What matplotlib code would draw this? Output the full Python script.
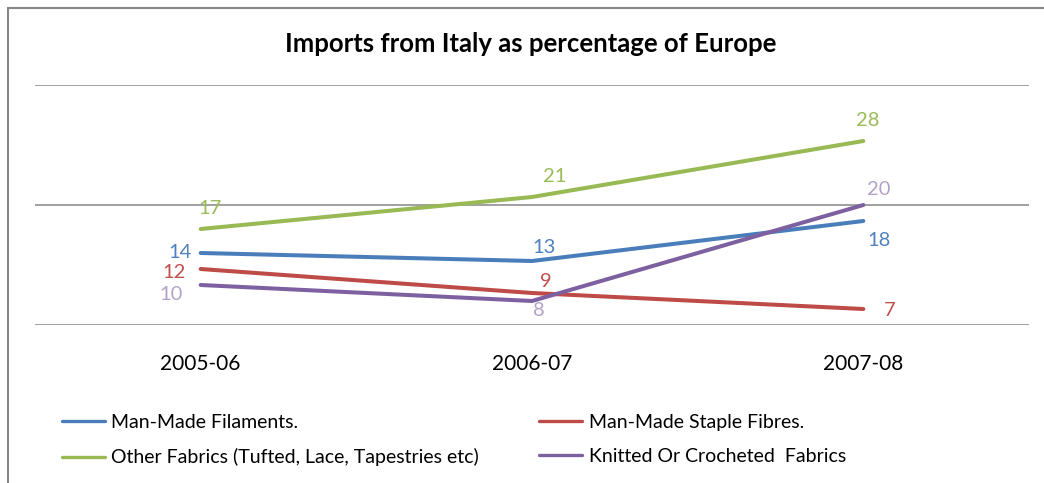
import matplotlib.pyplot as plt
from matplotlib.patches import Rectangle

plt.rcParams['font.family'] = ['Lato', 'DejaVu Sans']

years = ["2005-06", "2006-07", "2007-08"]
filaments = [14, 13, 18]
staple = [12, 9, 7]
other = [17, 21, 28]
knitted = [10, 8, 20]

series = [
    ("Man-Made Filaments.", filaments, "#4a7ebb", "#4f81bd"),
    ("Man-Made Staple Fibres.", staple, "#be4b48", "#c0504d"),
    ("Other Fabrics (Tufted, Lace, Tapestries etc)", other, "#98b954", "#9bbb59"),
    ("Knitted Or Crocheted  Fabrics", knitted, "#7d60a0", "#b3a2c7"),
]

# label offsets in points, one per data point
offsets = [
    [(-15, 0), (9, 10), (11, -14)],
    [(-19, -2.5), (10, 8), (19, -1)],
    [(7, 15), (16, 15), (3, 15)],
    [(-21, -7), (5, -7), (11, 11)],
]

fig = plt.figure(figsize=(10.44, 4.83), dpi=100)
fig.patches.append(Rectangle((8 / 1044, -0.1), 1.1, 1 - 8 / 483 + 0.1,
                             transform=fig.transFigure, fill=False,
                             edgecolor="#868686", linewidth=1.5))

ax = fig.add_axes([35 / 1044, 1 - 325 / 483, (1029 - 35) / 1044, 240 / 483])
x = list(range(len(years)))
handles = []
for (name, vals, col, lcol), offs in zip(series, offsets):
    h, = ax.plot(x, vals, color=col, linewidth=2.9, solid_capstyle="round", label=name)
    handles.append(h)
    for xi, v, (dx, dy) in zip(x, vals, offs):
        ax.annotate(str(v), (xi, v), xytext=(dx, dy), textcoords="offset points",
                    ha="center", va="center", color=lcol, fontsize=14.5)

ax.set_xlim(-0.5, 2.5)
ax.set_ylim(5, 35)
ax.set_yticks([5, 20, 35])
ax.yaxis.grid(True, color="#868686", linewidth=1.1)
ax.set_yticklabels([])
ax.tick_params(axis="y", length=0)
ax.set_xticks(x)
ax.set_xticklabels(years, fontsize=15)
ax.tick_params(axis="x", length=0, pad=21)
for s in ax.spines.values():
    s.set_visible(False)

fig.text(531 / 1044, 1 - 44 / 483, "Imports from Italy as percentage of Europe",
         ha="center", va="center", fontsize=18.5, fontweight="bold")

order = [0, 2, 1, 3]
leg = fig.legend([handles[i] for i in order], [series[i][0] for i in order],
                 ncol=2, loc="upper left", bbox_to_anchor=(54 / 1044, 1 - 406 / 483),
                 frameon=False, fontsize=14, handlelength=2.2, handletextpad=0.35,
                 columnspacing=3.1, labelspacing=0.9, borderaxespad=0)
for line in leg.get_lines():
    line.set_linewidth(2.4)

fig.savefig("out.png", dpi=100)
